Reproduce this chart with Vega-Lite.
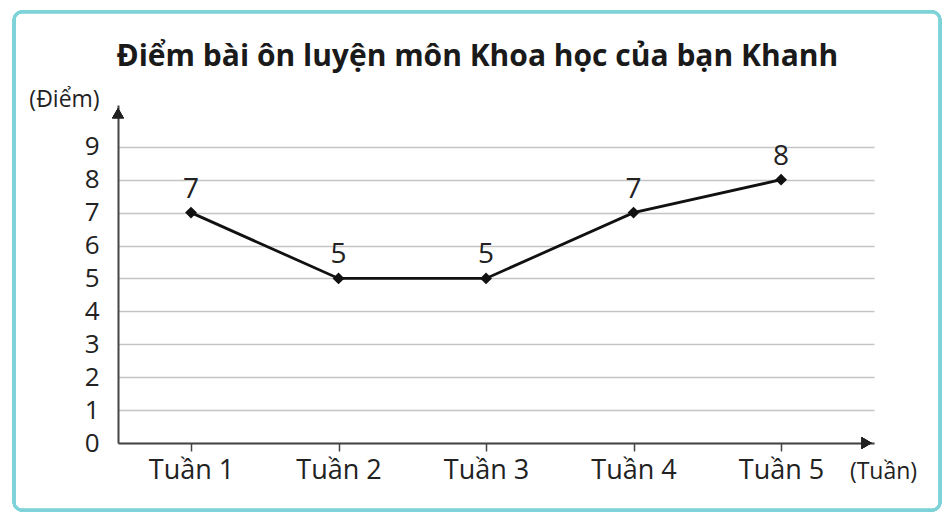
{
  "$schema": "https://vega.github.io/schema/vega-lite/v6.json",
  "autosize": {"type": "none"},
  "width": 756,
  "height": 338,
  "padding": {"left": 118, "top": 105, "right": 70, "bottom": 71},
  "background": "white",
  "config": {
    "view": {"stroke": null},
    "font": "Open Sans",
    "axisX": {
      "labelOverlap": false, "grid": false,
      "domainColor": "#444", "domainWidth": 2,
      "tickColor": "#444", "tickWidth": 1.5, "tickSize": 8,
      "labelFontSize": 27, "labelColor": "#222", "labelPadding": 6,
      "titleFontSize": 23, "titleFontWeight": "normal", "titleColor": "#222",
      "titleX": 765, "titleY": 28, "titleAlign": "center", "titleBaseline": "middle"
    },
    "axisY": {
      "labelOverlap": false,
      "grid": true, "gridColor": "#c4c4c4", "gridWidth": 1.3,
      "domainColor": "#444", "domainWidth": 2,
      "ticks": false,
      "labelFontSize": 26, "labelColor": "#222", "labelPadding": 19,
      "titleFontSize": 23, "titleFontWeight": "normal", "titleColor": "#222",
      "titleAngle": 0, "titleX": -54, "titleY": -6, "titleAlign": "center", "titleBaseline": "middle"
    }
  },
  "title": {
    "text": "Điểm bài ôn luyện môn Khoa học của bạn Khanh",
    "anchor": "start",
    "fontSize": 30,
    "fontWeight": "bold",
    "color": "#1a1a1a",
    "font": "Open Sans",
    "offset": -62,
    "dx": 104
  },
  "data": {
    "values": [
      {"tuan": 1, "diem": 7},
      {"tuan": 2, "diem": 5},
      {"tuan": 3, "diem": 5},
      {"tuan": 4, "diem": 7},
      {"tuan": 5, "diem": 8}
    ]
  },
  "encoding": {
    "x": {
      "field": "tuan", "type": "quantitative",
      "scale": {"domain": [0.505, 5.63], "nice": false, "zero": false},
      "axis": {"values": [1, 2, 3, 4, 5], "labelExpr": "'Tuần ' + datum.value", "title": "(Tuần)"}
    },
    "y": {
      "field": "diem", "type": "quantitative",
      "scale": {"domain": [0, 10.27], "nice": false, "zero": false},
      "axis": {"values": [0, 1, 2, 3, 4, 5, 6, 7, 8, 9], "title": "(Điểm)"}
    }
  },
  "layer": [
    {
      "mark": {"type": "line", "color": "#111", "strokeWidth": 2.8}
    },
    {
      "mark": {"type": "point", "shape": "diamond", "filled": true, "color": "#111", "size": 140, "opacity": 1}
    },
    {
      "mark": {"type": "text", "fontSize": 28, "color": "#222", "baseline": "bottom", "dy": -9},
      "encoding": {
        "text": {"field": "diem", "type": "quantitative"}
      }
    },
    {
      "mark": {"type": "rect", "fill": null, "stroke": "#7dd3d8", "strokeWidth": 3, "cornerRadius": 8},
      "encoding": {
        "x": {"datum": -0.2, "type": "quantitative",
              "axis": {"values": [1, 2, 3, 4, 5], "labelExpr": "'Tuần ' + datum.value", "title": "(Tuần)"}},
        "x2": {"datum": 6.078},
        "y": {"datum": 13.1, "type": "quantitative",
              "axis": {"values": [0, 1, 2, 3, 4, 5, 6, 7, 8, 9], "title": "(Điểm)"}},
        "y2": {"datum": -2.04}
      }
    },
    {
      "mark": {"type": "point", "shape": "triangle-up", "filled": true, "color": "#222", "size": 140, "opacity": 1},
      "encoding": {
        "x": {"datum": 0.505, "type": "quantitative",
              "axis": {"values": [1, 2, 3, 4, 5], "labelExpr": "'Tuần ' + datum.value", "title": "(Tuần)"}},
        "y": {"datum": 10.02, "type": "quantitative",
              "axis": {"values": [0, 1, 2, 3, 4, 5, 6, 7, 8, 9], "title": "(Điểm)"}}
      }
    },
    {
      "mark": {"type": "point", "shape": "triangle-right", "filled": true, "color": "#222", "size": 140, "opacity": 1},
      "encoding": {
        "x": {"datum": 5.58, "type": "quantitative",
              "axis": {"values": [1, 2, 3, 4, 5], "labelExpr": "'Tuần ' + datum.value", "title": "(Tuần)"}},
        "y": {"datum": 0, "type": "quantitative",
              "axis": {"values": [0, 1, 2, 3, 4, 5, 6, 7, 8, 9], "title": "(Điểm)"}}
      }
    }
  ]
}
